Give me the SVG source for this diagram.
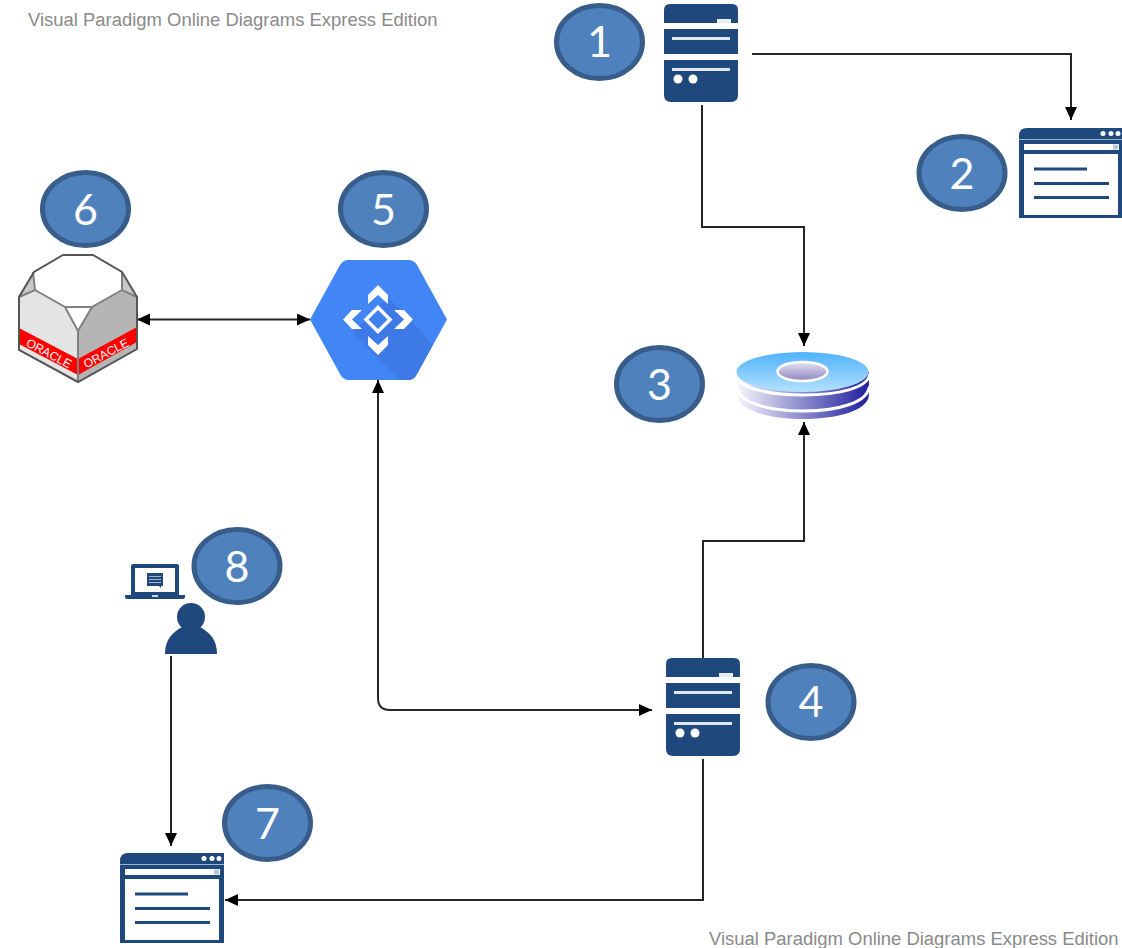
<svg xmlns="http://www.w3.org/2000/svg" width="1122" height="948" viewBox="0 0 1122 948">
<style>
.num{font-family:Lato,"Liberation Sans",sans-serif;font-size:43px;fill:#fff;text-anchor:middle}
.bub{fill:#4f81bd;stroke:#385d8a;stroke-width:5}
.wm{font-family:"Liberation Sans",Arial,sans-serif;font-size:18.45px;fill:#8a8a8a}
.c{fill:none;stroke:#262626;stroke-width:2}
.navy{fill:#1f497d}
</style>
<defs>
<marker id="a" markerUnits="userSpaceOnUse" markerWidth="14" markerHeight="14" refX="13" refY="6" orient="auto-start-reverse"><path d="M0 0L13 6L0 12z" fill="#000"/></marker>
<linearGradient id="d1" x1="0" y1="0" x2="0" y2="1"><stop offset="0" stop-color="#4fb2fb"/><stop offset="1" stop-color="#b4e1fe"/></linearGradient>
<linearGradient id="d2" x1="0" y1="0" x2="1" y2="0"><stop offset="0" stop-color="#f6f6fc"/><stop offset="1" stop-color="#1f1f9e"/></linearGradient>
<linearGradient id="d3" x1="0" y1="0" x2="0" y2="1"><stop offset="0" stop-color="#e4e2f2"/><stop offset="1" stop-color="#8d84bf"/></linearGradient>
<g id="srv">
<path class="navy" d="M0 19V6Q0 0 6 0H68Q74 0 74 6V19z"/>
<rect x="53" y="15" width="14" height="4" fill="#e8edf3"/>
<rect class="navy" x="0" y="25" width="74" height="25"/>
<path class="navy" d="M0 56H74V91Q74 98 67 98H7Q0 98 0 91z"/>
<rect x="8" y="33" width="58" height="3" fill="#dfe6ef"/>
<rect x="8" y="64" width="58" height="3" fill="#dfe6ef"/>
<circle cx="14" cy="75" r="4.500" fill="#fff"/><circle cx="29" cy="75" r="4.500" fill="#fff"/>
</g>
<g id="win">
<path class="navy" d="M0 90V8Q0 0 8 0H104V90z"/>
<rect x="0" y="11" width="104" height="1" fill="#9fb4cc"/>
<rect x="5" y="16" width="95" height="6" fill="#fff"/>
<rect x="94" y="16.500" width="5" height="5" fill="#b8c8da"/>
<rect x="5" y="26" width="94" height="61" fill="#fff"/>
<circle cx="84" cy="5.500" r="2.500" fill="#fff"/><circle cx="92" cy="5.500" r="2.500" fill="#fff"/><circle cx="99" cy="5.500" r="2.500" fill="#fff"/>
<rect x="15" y="39.500" width="53" height="3" class="navy"/><rect x="15" y="54" width="75" height="3" class="navy"/><rect x="15" y="68" width="75" height="3" class="navy"/>
</g>
</defs>
<rect width="1122" height="948" fill="#fff"/>
<text class="wm" x="28" y="26">Visual Paradigm Online Diagrams Express Edition</text>
<text class="wm" x="709" y="945">Visual Paradigm Online Diagrams Express Edition</text>
<g id="connectors">
<path class="c" d="M752 54H1071V120" marker-end="url(#a)"/>
<path class="c" d="M702 105V227H804V346" marker-end="url(#a)"/>
<path class="c" d="M703 658V541H804V422" marker-end="url(#a)"/>
<path class="c" d="M137 319.500H310" marker-start="url(#a)" marker-end="url(#a)"/>
<path class="c" d="M378 380V698Q378 710 390 710H652" marker-start="url(#a)" marker-end="url(#a)"/>
<path class="c" d="M171 656V846" marker-end="url(#a)"/>
<path class="c" d="M703 759V900H225" marker-end="url(#a)"/>
</g>
<g id="node-1"><ellipse class="bub" cx="599.500" cy="42" rx="43" ry="36.500"/><text class="num" x="599.500" y="57">1</text><use href="#srv" x="664" y="4"/></g>
<g id="node-2"><ellipse class="bub" cx="962" cy="173" rx="43" ry="36.500"/><text class="num" x="962" y="189">2</text><use href="#win" x="1019" y="128"/></g>
<g id="node-3"><ellipse class="bub" cx="659.500" cy="384" rx="43" ry="36.500"/><text class="num" x="659.500" y="400">3</text>
<path d="M737 384V394C737 410 767 419 803 419S869 410 869 394V384z" fill="url(#d2)"/>
<path d="M737 386C737 402 767 411 803 411S869 402 869 386" fill="none" stroke="#fff" stroke-width="3"/>
<path d="M737 372V382C737 398 767 407 803 407S869 398 869 382V372z" fill="url(#d2)"/>
<ellipse cx="802.500" cy="372" rx="66" ry="20" fill="url(#d1)"/>
<path d="M735 373C737 388 767 395 803 395S869 388 870 373" fill="none" stroke="#fff" stroke-width="3"/>
<ellipse cx="802.500" cy="371.500" rx="25" ry="9.500" fill="url(#d3)" stroke="#fff" stroke-width="2.500"/></g>
<g id="node-4"><ellipse class="bub" cx="811" cy="702" rx="43" ry="36.500"/><text class="num" x="811" y="717">4</text><use href="#srv" x="666" y="658"/></g>
<g id="node-5"><ellipse class="bub" cx="383.500" cy="209" rx="43" ry="36.500"/><text class="num" x="383.500" y="225">5</text>
<path d="M310 319.500L340 265Q343 260 349 260H408Q414 260 417 265L447 319.500L417 374Q414 380 408 380H349Q343 380 340 374z" fill="#4285f4"/>
<path d="M388 297L433 344.500L417 374Q414 380 408 380H400L353 333z" fill="#3d7ae6"/>
<g fill="#fff"><path d="M378 285L388 295V304L378 295L368 304V295z"/><path d="M378 355L388 345V336L378 345L368 336V345z"/><path d="M343 319.500L352 310H362L352 319.500L362 329H352z"/><path d="M413 319.500L404 310H394L404 319.500L394 329H404z"/></g>
<path d="M378 307.500L390 319.500L378 331.500L366 319.500z" fill="#3f80ee" stroke="#fff" stroke-width="3.500"/></g>
<g id="node-6"><ellipse class="bub" cx="85.500" cy="209" rx="43" ry="36.500"/><text class="num" x="85.500" y="225">6</text>
<path d="M19 297L34 272L63 255H93L122 272L137 297V349L78 382L19 350z" fill="#fff"/>
<path d="M19 297L35 290L65 307L78 331V382L19 350z" fill="#e4e4e4"/>
<path d="M137 297L122 290L92 307L78 331V382L137 349z" fill="#b5b5b5"/>
<path d="M19 328L78 359V375L19 344z" fill="#f00"/><path d="M137 327L78 359V375L137 342z" fill="#f00"/>
<path d="M19 297L33 272L35 290zM137 297L122 272V290z" fill="#c9c9c9"/>
<path d="M19 297L35 290L65 307L78 331L92 307L122 290L137 297M33 272L35 290M122 272V290M65 307H92M78 331V382" fill="none" stroke="#808080" stroke-width="2"/>
<path d="M19 297L34 272L63 255H93L122 272L137 297V349L78 382L19 350z" fill="none" stroke="#555" stroke-width="2"/>
<g font-family="Liberation Sans,Arial,sans-serif" font-size="12" fill="#fff" text-anchor="middle"><text transform="translate(47 357) rotate(28)">ORACLE</text><text transform="translate(108 357) rotate(-28)">ORACLE</text></g></g>
<g id="node-7"><ellipse class="bub" cx="267.500" cy="823" rx="43" ry="36.500"/><text class="num" x="267.500" y="839">7</text><use href="#win" x="120" y="853"/></g>
<g id="node-8"><ellipse class="bub" cx="237" cy="566" rx="43" ry="36.500"/><text class="num" x="237" y="582">8</text>
<path class="navy" d="M131 597V566Q131 564 133 564H177Q179 564 179 566V597z"/><rect x="135" y="568" width="40" height="24" fill="#fff"/>
<path class="navy" d="M125 595H185V597Q185 599 183 599H127Q125 599 125 597z"/><rect x="152" y="595" width="6" height="2" fill="#cfd8e3"/>
<path class="navy" d="M147 573H163V586H161V588L159 586H147z"/><g fill="#9fb4cc"><rect x="149" y="576" width="12" height="1"/><rect x="149" y="579" width="12" height="1"/><rect x="149" y="582" width="12" height="1"/></g>
<circle class="navy" cx="191" cy="617" r="14"/><path class="navy" d="M165 654C165 640 172 632 184 626H198C210 632 217 640 217 654z"/></g>
</svg>
